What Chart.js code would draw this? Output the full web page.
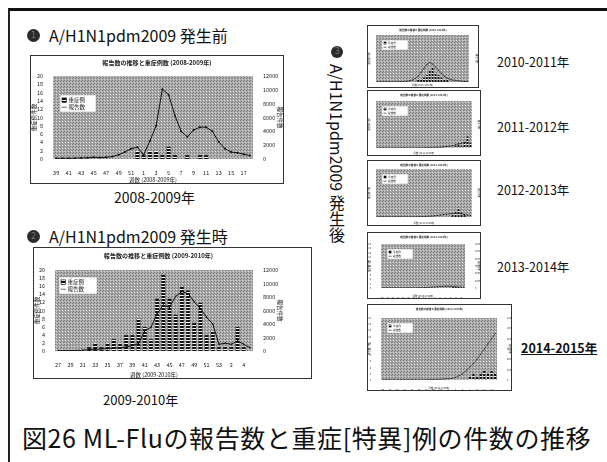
<!DOCTYPE html>
<html>
<head>
<meta charset="utf-8">
<script src="https://cdn.jsdelivr.net/npm/chart.js@4.4.0/dist/chart.umd.min.js"></script>
<style>
  body { margin: 0; width: 607px; height: 462px; background: #fff; position: relative; overflow: hidden;
         font-family: "Noto Sans CJK JP", sans-serif; color: #111; }
  .frame { position: absolute; left: 8px; top: 8px; width: 700px; height: 600px;
           border-top: 3px solid #111; border-left: 2px solid #222; }
  .box { position: absolute; border: 1px solid #333; background: #fff; }
  .box canvas { display: block; }
  .txt { position: absolute; white-space: nowrap; line-height: 1; }
  .dot { position: absolute; width: 13px; height: 13px; border-radius: 50%; background: #2b2b2b;
         color: #777; font-size: 8px; line-height: 13px; text-align: center; font-family: "DejaVu Sans", sans-serif; }
  .vert { position: absolute; writing-mode: vertical-rl; text-orientation: mixed; white-space: nowrap; line-height: 1; }
</style>
</head>
<body>
<div class="frame"></div>

<div class="dot" style="left:27px;top:29px;">1</div>
<div class="txt" style="left:49px;top:27px;font-size:16px;">A/H1N1pdm2009 発生前</div>
<div class="box" style="left:30px;top:55px;"><canvas id="c0809" width="252" height="127"></canvas></div>
<div class="txt" style="left:114px;top:190px;font-size:14px;">2008-2009年</div>

<div class="dot" style="left:27px;top:230px;">2</div>
<div class="txt" style="left:49px;top:228px;font-size:16px;">A/H1N1pdm2009 発生時</div>
<div class="box" style="left:33px;top:247px;"><canvas id="c0910" width="277" height="130"></canvas></div>
<div class="txt" style="left:103px;top:393px;font-size:13px;">2009-2010年</div>

<div class="dot" style="left:331px;top:46px;width:12px;height:12px;line-height:12px;">3</div>
<div class="vert" style="left:329px;top:64px;font-size:16px;">A/H1N1pdm2009 発生後</div>

<div class="box" style="left:367px;top:25px;"><canvas id="t1" width="110" height="61"></canvas></div>
<div class="box" style="left:367px;top:90px;"><canvas id="t2" width="112" height="64"></canvas></div>
<div class="box" style="left:367px;top:160px;"><canvas id="t3" width="112" height="64"></canvas></div>
<div class="box" style="left:367px;top:232px;"><canvas id="t4" width="112" height="65"></canvas></div>
<div class="box" style="left:367px;top:304px;"><canvas id="t5" width="143" height="85"></canvas></div>

<div class="txt" style="left:497px;top:56px;font-size:12.5px;">2010-2011年</div>
<div class="txt" style="left:497px;top:121px;font-size:12.5px;">2011-2012年</div>
<div class="txt" style="left:497px;top:184px;font-size:12.5px;">2012-2013年</div>
<div class="txt" style="left:497px;top:261px;font-size:12.5px;">2013-2014年</div>
<div class="txt" style="left:521px;top:342px;font-size:12.5px;font-weight:bold;text-decoration:underline;">2014-2015年</div>

<div class="txt" style="left:22px;top:425px;font-size:25px;letter-spacing:0.6px;">図26 ML-Fluの報告数と重症[特異]例の件数の推移</div>

<script>
// 2008-2009 season (weeks 39-52, 1-18)
const weeks0809 = ['39','40','41','42','43','44','45','46','47','48','49','50','51','52',
  '1','2','3','4','5','6','7','8','9','10','11','12','13','14','15','16','17','18'];
const severe0809 = [0,0,0,0,0,0,0,0,0,0,0,0,0,2, 1,2,2,1,3,1,0,1,0,1,1,0,0,0,0,0,0,0];
const reports0809 = [100,100,100,120,150,180,250,200,250,350,600,1000,1500,1700,
  600,2600,4800,10100,9300,6300,4000,3200,4200,4600,4600,4000,2500,1500,1000,900,700,500];

// 2009-2010 season (weeks 27-53, 1-5)
const weeks0910 = ['27','28','29','30','31','32','33','34','35','36','37','38','39','40','41','42',
  '43','44','45','46','47','48','49','50','51','52','53','1','2','3','4','5'];
const severe0910 = [0,0,0,0,0,1,2,1,2,3,2,4,4,8,6,3,13,19,13,9,16,15,7,12,4,5,1,1,1,6,1,0];
const reports0910 = [50,50,60,80,120,200,250,300,350,450,500,600,800,1100,3000,3500,
  5500,6800,6500,8100,8800,8500,7300,6300,5000,4000,1000,1150,1000,1500,1000,500];

// later seasons (thumbnails)
const weeksLater = ['36','37','38','39','40','41','42','43','44','45','46','47','48','49','50','51',
  '52','1','2','3','4','5','6','7','8','9','10','11','12','13','14','15'];
const severe1011 = [0,0,0,0,0,0,0,0,0,0,0,0,0,0,1,1,2,3,5,6,4,3,2,1,1,0,0,0,0,0,0,0];
const reports1011 = [50,50,50,50,50,50,50,80,100,150,200,300,500,900,1500,2500,3500,4500,5000,4600,
  3800,3000,2200,1500,1000,700,500,400,300,200,150,100];
const severe1112 = [0,0,0,0,0,0,0,0,0,0,0,0,0,0,0,0,0,0,0,0,0,0,0,0,0,0,1,2,1,3,5,2];
const reports1112 = [50,50,50,50,50,50,50,50,50,50,50,50,60,60,80,80,100,100,120,150,200,250,300,
  400,500,600,800,1000,1200,1500,1400,1200];
const severe1213 = [0,0,0,0,0,0,0,0,0,0,0,0,0,0,0,0,0,0,0,0,0,0,0,0,0,1,2,4,2,1,0,0];
const reports1213 = [50,50,50,50,50,50,50,50,50,50,50,60,60,80,100,120,150,200,250,300,400,500,600,
  700,800,900,1000,900,800,600,500,400];
const severe1314 = [0,0,0,0,0,0,0,0,0,0,0,0,0,0,0,0,0,0,0,0,0,0,0,0,0,0,0,1,1,1,0,0];
const reports1314 = [50,50,50,50,50,50,50,50,50,50,50,50,60,60,80,100,120,150,200,250,300,350,400,
  450,500,500,450,400,350,300,250,200];
const severe1415 = [0,0,0,0,0,0,0,0,0,0,0,0,0,0,0,0,0,0,0,0,0,0,0,0,1,2,1,2,3,2,3,2];
const reports1415 = [50,50,50,50,50,50,50,50,50,50,50,60,60,80,100,120,150,200,250,300,500,800,1200,
  1800,2500,3200,4000,5000,6000,7000,8000,9000];

const FONT = '"Noto Sans CJK JP", sans-serif';

function dotPattern() {
  const c = document.createElement('canvas');
  c.width = 3; c.height = 3;
  const g = c.getContext('2d');
  g.fillStyle = '#acacac'; g.fillRect(0, 0, 3, 3);
  g.fillStyle = '#7c7c7c'; g.fillRect(0, 0, 1, 1); g.fillRect(2, 1, 1, 1);
  g.fillStyle = '#d4d4d4'; g.fillRect(1, 2, 1, 1);
  return g.createPattern(c, 'repeat');
}
function stripePattern() {
  const c = document.createElement('canvas');
  c.width = 2; c.height = 3;
  const g = c.getContext('2d');
  g.fillStyle = '#fff'; g.fillRect(0, 0, 2, 3);
  g.fillStyle = '#111'; g.fillRect(0, 0, 2, 2);
  return g.createPattern(c, 'repeat');
}
const DOTS = dotPattern();
const STRIPE = stripePattern();

const plotBg = {
  id: 'plotBg',
  beforeDatasetsDraw(chart) {
    const a = chart.chartArea, ctx = chart.ctx;
    ctx.save();
    ctx.fillStyle = '#aaaaaa';
    ctx.fillRect(a.left, a.top, a.right - a.left, a.bottom - a.top);
    ctx.fillStyle = DOTS;
    ctx.fillRect(a.left, a.top, a.right - a.left, a.bottom - a.top);
    ctx.restore();
  }
};

const boxLegend = {
  id: 'boxLegend',
  afterDatasetsDraw(chart, args, o) {
    const a = chart.chartArea, ctx = chart.ctx;
    const x = a.left + o.dx, y = a.top + o.dy;
    ctx.save();
    ctx.fillStyle = '#fff';
    ctx.fillRect(x, y, o.w, o.h);
    ctx.strokeStyle = '#999'; ctx.lineWidth = 0.5;
    ctx.strokeRect(x, y, o.w, o.h);
    const fs = o.fs, sw = fs * 0.8;
    ctx.font = fs + 'px ' + FONT;
    ctx.textBaseline = 'middle';
    const r1 = y + o.h * 0.3, r2 = y + o.h * 0.72;
    ctx.fillStyle = STRIPE;
    ctx.fillRect(x + 2, r1 - sw / 2, sw, sw);
    ctx.strokeStyle = '#111'; ctx.lineWidth = 0.6;
    ctx.strokeRect(x + 2, r1 - sw / 2, sw, sw);
    ctx.beginPath(); ctx.moveTo(x + 1.5, r2); ctx.lineTo(x + 2.5 + sw, r2); ctx.stroke();
    ctx.fillStyle = '#111';
    ctx.fillText('重症例', x + 4 + sw, r1);
    ctx.fillText('報告数', x + 4 + sw, r2);
    ctx.restore();
  }
};

function makeChart(id, labels, bars, line, p) {
  const fs = p.fs;
  return new Chart(document.getElementById(id), {
    type: 'bar',
    data: {
      labels: labels,
      datasets: [
        { type: 'line', label: '報告数', data: line, yAxisID: 'y1', borderColor: '#111',
          borderWidth: p.lw, pointRadius: p.pr, pointBackgroundColor: '#111', pointBorderWidth: 0,
          tension: 0, order: 0 },
        { type: 'bar', label: '重症例', data: bars, yAxisID: 'y', backgroundColor: STRIPE,
          borderColor: '#111', borderWidth: p.bw, barPercentage: 1, categoryPercentage: 0.7, order: 1 }
      ]
    },
    options: {
      responsive: false,
      animation: false,
      layout: { padding: { left: 0, right: p.padR || 0, top: 0, bottom: 0 } },
      plugins: {
        legend: { display: false },
        tooltip: { enabled: false },
        title: { display: true, text: p.title, color: '#222',
          font: { family: FONT, size: fs * 1.1 },
          padding: { top: p.titleTop, bottom: p.top - p.titleTop - fs * 1.1 * 1.2 } },
        boxLegend: p.legend
      },
      scales: {
        x: {
          grid: { display: false }, border: { display: false },
          afterFit: s => { s.height = p.bottom; },
          ticks: { autoSkip: false, maxRotation: 0, minRotation: 0, padding: p.tickPad, color: '#222',
            font: { family: FONT, size: fs },
            callback: (v, i) => (i % 2 === 0 ? labels[i] : '') },
          title: { display: true, text: p.xTitle, color: '#222', font: { family: FONT, size: fs }, padding: 0 }
        },
        y: {
          position: 'left', min: 0, max: 20,
          grid: { display: false }, border: { display: false },
          afterFit: s => { s.width = p.left; },
          ticks: { stepSize: 2, autoSkip: false, padding: 2, color: '#222', font: { family: FONT, size: fs } },
          title: { display: true, text: '重症例件数', color: '#222', font: { family: FONT, size: fs }, padding: 0 }
        },
        y1: {
          position: 'right', min: 0, max: 12000,
          grid: { display: false }, border: { display: false },
          afterFit: s => { s.width = p.right; },
          ticks: { stepSize: 2000, autoSkip: false, padding: 2, color: '#222', font: { family: FONT, size: fs },
            callback: v => String(v) },
          title: { display: true, text: '報告件数', color: '#222', font: { family: FONT, size: fs }, padding: 0 }
        }
      }
    },
    plugins: [plotBg, boxLegend]
  });
}

makeChart('c0809', weeks0809, severe0809, reports0809, {
  fs: 5.5, lw: 1, pr: 1, bw: 0.4, tickPad: 3,
  title: '報告数の推移と重症例数 (2008-2009年)', xTitle: '週数 (2008-2009年)',
  left: 22, right: 30, top: 20, bottom: 24, titleTop: 3,
  legend: { dx: 7, dy: 19, w: 36, h: 17, fs: 5.5 }
});
makeChart('c0910', weeks0910, severe0910, reports0910, {
  fs: 5.5, lw: 1, pr: 0.8, bw: 0.4, tickPad: 3,
  title: '報告数の推移と重症例数 (2009-2010年)', xTitle: '週数 (2009-2010年)',
  left: 21, right: 30, padR: 28, top: 22, bottom: 27, titleTop: 4,
  legend: { dx: 4, dy: 7, w: 38, h: 17, fs: 5.5 }
});

const thumbs = [
  ['t1', severe1011, reports1011, '2010-2011年', { left: 8, right: 9, top: 9, bottom: 5 }],
  ['t2', severe1112, reports1112, '2011-2012年', { left: 8, right: 8, top: 10, bottom: 7 }],
  ['t3', severe1213, reports1213, '2012-2013年', { left: 8, right: 8, top: 8, bottom: 8 }],
  ['t4', severe1314, reports1314, '2013-2014年', { left: 13, right: 15, top: 11, bottom: 10 }],
  ['t5', severe1415, reports1415, '2014-2015年', { left: 13, right: 14, top: 13, bottom: 10 }]
];
thumbs.forEach(t => {
  const g = t[4];
  makeChart(t[0], weeksLater, t[1], t[2], {
    fs: 2.4, lw: 0.5, pr: 0.5, bw: 0.2, tickPad: 1,
    title: '報告数の推移と重症例数 (' + t[3] + ')', xTitle: '週数 (' + t[3] + ')',
    left: g.left, right: g.right, top: g.top, bottom: g.bottom, titleTop: 2,
    legend: { dx: 6, dy: 5, w: 26, h: 10, fs: 2.6 }
  });
});
</script>
</body>
</html>
